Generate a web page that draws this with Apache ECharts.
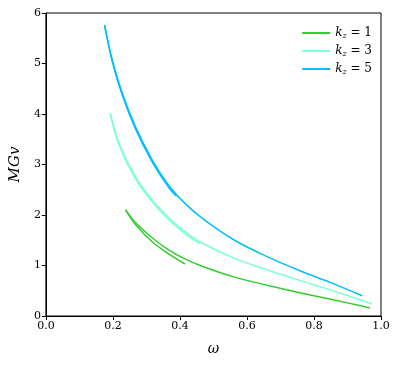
<!DOCTYPE html>
<html>
<head>
<meta charset="utf-8">
<script src="https://cdn.jsdelivr.net/npm/echarts@6/dist/echarts.min.js"></script>
<style>
    html, body { margin: 0; padding: 0; background: #fff; }
    #chart { width: 399px; height: 365px; }
</style>
</head>
<body>
<div id="chart"></div>
<script type="text/javascript">
    // kz = 1 : short branch (ends near 0.41) and long branch, both start at the tip
    var k1ShortX = [0.238, 0.267, 0.317, 0.366, 0.415];
    var k1ShortY = [2.10, 1.81, 1.47, 1.23, 1.03];
    var k1LongX = [0.238, 0.267, 0.317, 0.366, 0.415, 0.464, 0.563, 0.711, 0.80, 0.90, 0.967];
    var k1LongY = [2.10, 1.85, 1.55, 1.31, 1.13, 0.99, 0.77, 0.53, 0.40, 0.26, 0.16];

    // kz = 3
    var k3ShortX = [0.192, 0.218, 0.267, 0.317, 0.366, 0.415, 0.46];
    var k3ShortY = [4.01, 3.39, 2.72, 2.26, 1.91, 1.63, 1.43];
    var k3LongX = [0.192, 0.218, 0.267, 0.317, 0.366, 0.415, 0.464, 0.563, 0.662, 0.760, 0.87, 0.973];
    var k3LongY = [4.01, 3.42, 2.76, 2.30, 1.95, 1.67, 1.45, 1.14, 0.91, 0.70, 0.47, 0.24];

    // kz = 5
    var k5ShortX = [0.175, 0.198, 0.228, 0.267, 0.317, 0.366, 0.39];
    var k5ShortY = [5.76, 5.04, 4.37, 3.71, 3.05, 2.55, 2.37];
    var k5LongX = [0.175, 0.198, 0.228, 0.267, 0.317, 0.366, 0.415, 0.464, 0.563, 0.662, 0.760, 0.85, 0.944];
    var k5LongY = [5.76, 5.07, 4.41, 3.75, 3.09, 2.59, 2.23, 1.95, 1.50, 1.17, 0.89, 0.66, 0.40];

    var xTicks = [0.0, 0.2, 0.4, 0.6, 0.8, 1.0];
    var yTicks = [0, 1, 2, 3, 4, 5, 6];

    var names = ['k1', 'k3', 'k5'];
    var kzLabels = ['1', '3', '5'];
    var colors = ['#32CD32', '#7FFFD4', '#00BFFF'];

    function pairs(xs, ys) {
        var out = [];
        for (var i = 0; i < xs.length; i++) {
            out.push([xs[i], ys[i]]);
        }
        return out;
    }

    var branches = [
        [pairs(k1ShortX, k1ShortY), pairs(k1LongX, k1LongY)],
        [pairs(k3ShortX, k3ShortY), pairs(k3LongX, k3LongY)],
        [pairs(k5ShortX, k5ShortY), pairs(k5LongX, k5LongY)]
    ];

    var serif = 'DejaVu Serif';

    var series = [];
    for (var i = 0; i < names.length; i++) {
        for (var b = 0; b < 2; b++) {
            series.push({
                name: names[i],
                type: 'line',
                data: branches[i][b],
                smooth: 0.35,
                showSymbol: false,
                symbol: 'none',
                lineStyle: { color: colors[i], width: 1.5 },
                itemStyle: { color: colors[i] }
            });
        }
    }

    var myChart = echarts.init(document.getElementById('chart'), null, { renderer: 'canvas' });
    var option = {
        animation: false,
        backgroundColor: '#fff',
        grid: {
            left: 43,
            right: 18,
            top: 13,
            bottom: 49,
            show: true,
            borderColor: '#000',
            borderWidth: 1,
            containLabel: false
        },
        legend: {
            right: 22,
            top: 21,
            orient: 'vertical',
            itemWidth: 28,
            itemHeight: 10,
            itemGap: 4,
            icon: 'path://M0,4L28,4L28,6L0,6Z',
            data: names,
            formatter: function (name) {
                var idx = names.indexOf(name);
                return '{k|k}{s|z}{n| = ' + kzLabels[idx] + '}';
            },
            textStyle: {
                fontFamily: serif,
                rich: {
                    k: { fontFamily: serif, fontStyle: 'italic', fontSize: 12, color: '#000', lineHeight: 14 },
                    s: { fontFamily: serif, fontStyle: 'italic', fontSize: 8, color: '#000', verticalAlign: 'bottom', lineHeight: 10, padding: [6, 0, 0, 0] },
                    n: { fontFamily: serif, fontSize: 12, color: '#000', lineHeight: 14 }
                }
            }
        },
        xAxis: {
            type: 'value',
            min: 0,
            max: 1,
            interval: 0.2,
            name: 'ω',
            nameLocation: 'middle',
            nameGap: 26,
            nameTextStyle: { fontFamily: serif, fontStyle: 'italic', fontSize: 14, color: '#000' },
            axisLine: { show: true, lineStyle: { color: '#000', width: 1 } },
            axisTick: { show: true, inside: false, length: 4, lineStyle: { color: '#000' } },
            axisLabel: {
                fontFamily: serif, fontSize: 11, color: '#000', margin: 5,
                formatter: function (v) { return v.toFixed(1); }
            },
            splitLine: { show: false }
        },
        yAxis: {
            type: 'value',
            min: 0,
            max: 6,
            interval: 1,
            name: 'MGv',
            nameLocation: 'middle',
            nameGap: 22,
            nameRotate: 90,
            nameTextStyle: { fontFamily: serif, fontStyle: 'italic', fontSize: 15, color: '#000' },
            axisLine: { show: true, lineStyle: { color: '#000', width: 1 } },
            axisTick: { show: true, inside: false, length: 4, lineStyle: { color: '#000' } },
            axisLabel: {
                fontFamily: serif, fontSize: 11, color: '#000', margin: 5,
                formatter: function (v) { return yTicks.indexOf(v) >= 0 ? String(v) : ''; }
            },
            splitLine: { show: false }
        },
        series: series
    };
    myChart.setOption(option);
</script>
</body>
</html>
